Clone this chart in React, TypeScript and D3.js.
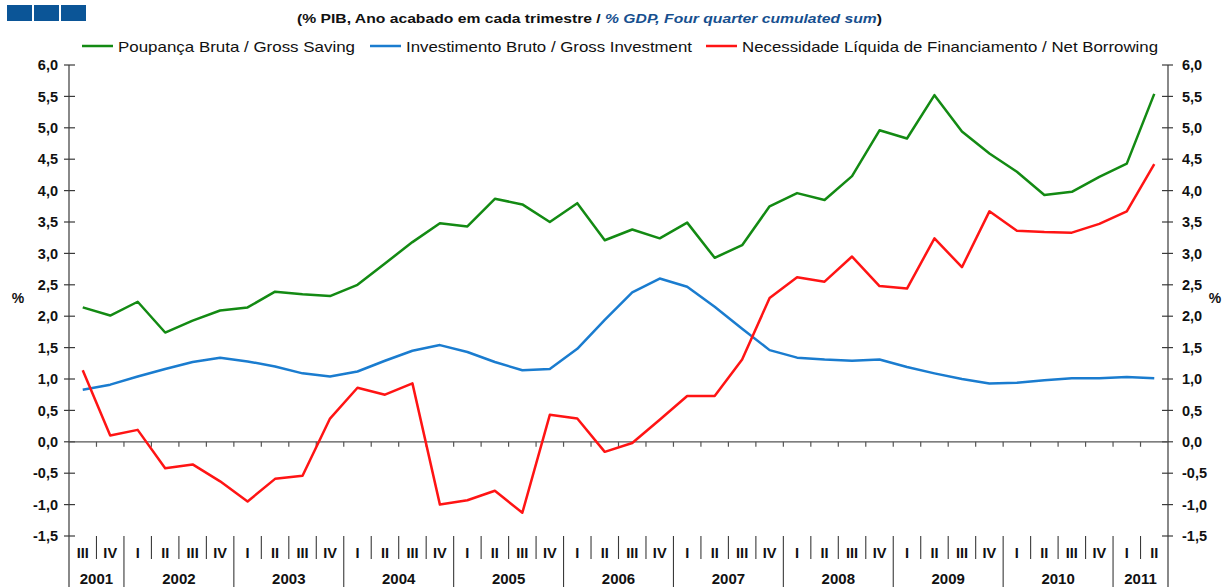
import React from "react";
import * as d3 from "d3";

const quarters = [
  "III","IV",
  "I","II","III","IV","I","II","III","IV","I","II","III","IV","I","II","III","IV",
  "I","II","III","IV","I","II","III","IV","I","II","III","IV","I","II","III","IV",
  "I","II","III","IV",
  "I","II",
];
const years = ["2001","2002","2003","2004","2005","2006","2007","2008","2009","2010","2011"];
const yearStart = [0, 2, 6, 10, 14, 18, 22, 26, 30, 34, 38];
const yearEnd = [2, 6, 10, 14, 18, 22, 26, 30, 34, 38, 40];

const grossSaving = [
  2.14, 2.01, 2.23, 1.74, 1.93, 2.09, 2.14, 2.39, 2.35, 2.32,
  2.50, 2.84, 3.18, 3.48, 3.43, 3.87, 3.78, 3.50, 3.80, 3.21,
  3.38, 3.24, 3.49, 2.93, 3.13, 3.75, 3.96, 3.85, 4.23, 4.96,
  4.83, 5.52, 4.94, 4.59, 4.30, 3.93, 3.98, 4.22, 4.43, 5.54,
];
const grossInvestment = [
  0.83, 0.91, 1.04, 1.16, 1.27, 1.34, 1.28, 1.20, 1.09, 1.04,
  1.12, 1.29, 1.45, 1.54, 1.43, 1.27, 1.14, 1.16, 1.48, 1.94,
  2.38, 2.60, 2.47, 2.15, 1.80, 1.46, 1.34, 1.31, 1.29, 1.31,
  1.19, 1.09, 1.00, 0.93, 0.94, 0.98, 1.01, 1.01, 1.03, 1.01,
];
const netBorrowing = [
  1.14, 0.10, 0.19, -0.42, -0.36, -0.63, -0.95, -0.59, -0.54, 0.37,
  0.86, 0.75, 0.93, -1.00, -0.93, -0.78, -1.13, 0.43, 0.37, -0.16,
  -0.02, 0.35, 0.73, 0.73, 1.31, 2.29, 2.62, 2.55, 2.95, 2.48,
  2.44, 3.24, 2.78, 3.67, 3.36, 3.34, 3.33, 3.47, 3.67, 4.42,
];
const yTicks = [-1.5, -1.0, -0.5, 0, 0.5, 1.0, 1.5, 2.0, 2.5, 3.0, 3.5, 4.0, 4.5, 5.0, 5.5, 6.0];

const seriesNames = [
  "Poupança Bruta / Gross Saving",
  "Investimento Bruto / Gross Investment",
  "Necessidade Líquida de Financiamento / Net Borrowing",
];
const seriesColors = ["#138a13", "#1a7ccf", "#ff1414"];

const FONT = "'Liberation Sans', Arial, sans-serif";

export default function App() {
  const W = 1223, H = 587;
  const left = 69, right = 1168;
  const x = d3.scaleBand<number>().domain(d3.range(quarters.length)).range([left, right]).padding(0);
  const y = d3.scaleLinear().domain([-1.5, 6]).range([536, 65]);
  const cx = (i: number) => (x(i) as number) + x.bandwidth() / 2;
  const line = d3.line<number>().x((_, i) => cx(i)).y((d) => y(d));
  const allSeries = [grossSaving, grossInvestment, netBorrowing];
  const fmt = (v: number) => d3.format(".1f")(v).replace(".", ",").replace("−", "-");
  const axisColor = "#3a3a3a";
  const boundaries = d3.range(1, quarters.length);
  const yearBoundaries = new Set(yearStart.slice(1));

  const legendItems = [
    { lx: 82, tx: 118, tw: 237 },
    { lx: 370, tx: 406, tw: 286 },
    { lx: 706, tx: 742, tw: 416 },
  ];

  return (
    <svg width={W} height={H} style={{ position: "absolute", left: 0, top: 0, background: "#fff" }} fontFamily={FONT}>
      <rect x={0} y={0} width={W} height={H} fill="#fff" />
      {[7, 34, 61].map((bx) => (
        <rect key={bx} x={bx} y={5} width={25} height={16} fill="#0b5597" />
      ))}
      <text x={297} y={23} fontSize={13} fontWeight="bold" fill="#111" textLength={585} lengthAdjust="spacingAndGlyphs">
        <tspan>(% PIB, Ano acabado em cada trimestre / </tspan>
        <tspan fill="#17508f" fontStyle="italic">% GDP, Four quarter cumulated sum</tspan>
        <tspan>)</tspan>
      </text>
      {legendItems.map((it, k) => (
        <g key={k}>
          <line x1={it.lx} x2={it.lx + 31} y1={46} y2={46} stroke={seriesColors[k]} strokeWidth={2.5} />
          <text x={it.tx} y={52} fontSize={15} fill="#111" textLength={it.tw} lengthAdjust="spacingAndGlyphs">
            {seriesNames[k]}
          </text>
        </g>
      ))}
      <line x1={left} x2={left} y1={65} y2={H} stroke={axisColor} strokeWidth={1.2} />
      <line x1={right} x2={right} y1={65} y2={H} stroke={axisColor} strokeWidth={1.2} />
      {yTicks.map((t) => (
        <g key={t}>
          <line x1={left - 5} x2={left + 6} y1={y(t)} y2={y(t)} stroke={axisColor} strokeWidth={1.2} />
          <line x1={right - 6} x2={right + 5} y1={y(t)} y2={y(t)} stroke={axisColor} strokeWidth={1.2} />
          <text x={58} y={y(t)} dy="0.36em" textAnchor="end" fontSize={14.5} fontWeight="bold" fill="#111">
            {fmt(t)}
          </text>
          <text x={1182} y={y(t)} dy="0.36em" textAnchor="start" fontSize={14.5} fontWeight="bold" fill="#111">
            {fmt(t)}
          </text>
        </g>
      ))}
      <text x={18} y={298} dy="0.36em" textAnchor="middle" fontSize={14} fontWeight="bold" fill="#111">%</text>
      <text x={1215} y={298} dy="0.36em" textAnchor="middle" fontSize={14} fontWeight="bold" fill="#111">%</text>
      <line x1={left} x2={right} y1={y(0)} y2={y(0)} stroke="#555" strokeWidth={1.2} />
      {boundaries.map((b) => (
        <line key={b} x1={x(b) as number} x2={x(b) as number} y1={y(0)} y2={y(0) + 5} stroke="#555" strokeWidth={1.2} />
      ))}
      {boundaries.map((b) => (
        <line
          key={"s" + b}
          x1={x(b) as number}
          x2={x(b) as number}
          y1={536}
          y2={yearBoundaries.has(b) ? H : 559}
          stroke={axisColor}
          strokeWidth={1.1}
        />
      ))}
      {quarters.map((q, i) => (
        <text key={"q" + i} x={cx(i)} y={553} dy="0.36em" textAnchor="middle" fontSize={14.5} fontWeight="bold" fill="#111">
          {q}
        </text>
      ))}
      {years.map((yr, k) => {
        const mid = ((x(yearStart[k]) as number) + (yearEnd[k] >= quarters.length ? right : (x(yearEnd[k]) as number))) / 2;
        return (
          <text key={yr} x={mid} y={579} dy="0.36em" textAnchor="middle" fontSize={15} fontWeight="bold" fill="#111">
            {yr}
          </text>
        );
      })}
      {allSeries.map((s, k) => (
        <path key={k} d={line(s) || ""} fill="none" stroke={seriesColors[k]} strokeWidth={2.5} strokeLinejoin="round" />
      ))}
    </svg>
  );
}
